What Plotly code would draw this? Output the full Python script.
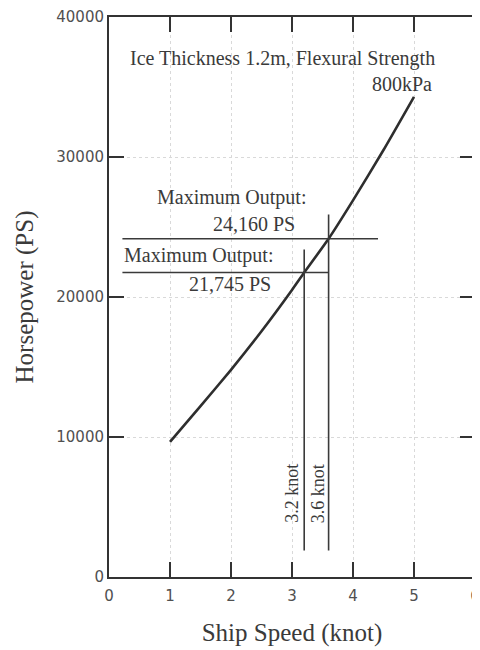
import plotly.graph_objects as go

# ship speed (knot) vs required horsepower (PS)
speed = [1, 1.5, 2, 2.5, 3, 3.2, 3.6, 4, 4.5, 5]
power = [9650, 12200, 14800, 17550, 20500, 21745, 24160, 26900, 30500, 34300]

# maximum output cases
max_output = [24160, 21745]
max_output_text = ["24,160 PS", "21,745 PS"]
max_speed = [3.6, 3.2]
max_speed_text = ["3.6 knot", "3.2 knot"]

y_ticks = [0, 10000, 20000, 30000, 40000]
x_ticks = [0, 1, 2, 3, 4, 5, 6]

serif = "Liberation Serif"
ink = "#3a3a3a"

fig = go.Figure()

fig.add_trace(go.Scatter(
    x=speed, y=power, mode="lines",
    line=dict(color="#2e2e2e", width=2.6, shape="spline", smoothing=0.5),
    showlegend=False, hoverinfo="skip",
))

# guide lines: horizontal at each output, vertical at each speed
h_ends = [4.41, 3.6]
v_tops = [25900, 23400]
for i in range(2):
    fig.add_shape(type="line", xref="x", yref="y",
                  x0=0.22, x1=h_ends[i], y0=max_output[i], y1=max_output[i],
                  line=dict(color=ink, width=1.6))
    fig.add_shape(type="line", xref="x", yref="y",
                  x0=max_speed[i], x1=max_speed[i], y0=1900, y1=v_tops[i],
                  line=dict(color=ink, width=1.6))

anno = [
    dict(x=2.85, y=37070, text="Ice Thickness 1.2m, Flexural Strength", xanchor="center"),
    dict(x=5.33, y=35200, text="800kPa", xanchor="right"),
    dict(x=2.01, y=27140, text="Maximum Output:", xanchor="center"),
    dict(x=2.38, y=25250, text=max_output_text[0], xanchor="center"),
    dict(x=1.46, y=23000, text="Maximum Output:", xanchor="center"),
    dict(x=1.99, y=20950, text=max_output_text[1], xanchor="center"),
]
for a in anno:
    fig.add_annotation(x=a["x"], y=a["y"], text=a["text"], xanchor=a["xanchor"],
                       yanchor="middle", showarrow=False,
                       font=dict(family=serif, size=20, color=ink))

for sx, label in zip([3.42, 3.0], max_speed_text):
    fig.add_annotation(x=sx, y=5950, text=label, textangle=-90, showarrow=False,
                       xanchor="center", yanchor="middle",
                       font=dict(family=serif, size=18, color=ink))

axis_common = dict(
    showline=True, linecolor="#333", linewidth=2, mirror="ticks",
    ticks="inside", ticklen=15, tickwidth=2, tickcolor="#333",
    showgrid=True, gridcolor="#d9d9d9", griddash="dot", gridwidth=1,
    zeroline=False, automargin=False,
    tickfont=dict(family="DejaVu Sans", size=15, color="#505050"),
)

fig.update_xaxes(range=[0, 6], tickvals=x_ticks, ticktext=[str(v) for v in x_ticks],
                 ticklabelstandoff=4,
                 title=dict(text="Ship Speed (knot)", font=dict(family=serif, size=25, color=ink),
                            standoff=19),
                 **axis_common)
fig.update_yaxes(range=[0, 40000], tickvals=y_ticks, ticktext=[str(v) for v in y_ticks],
                 title=dict(text="Horsepower (PS)", font=dict(family=serif, size=25, color=ink),
                            standoff=16),
                 **axis_common)

# the page adds an 8px body margin, so the margins are shifted to compensate
fig.update_layout(
    width=480, height=650,
    margin=dict(l=101, r=13, t=9, b=81),
    plot_bgcolor="white", paper_bgcolor="white",
)

fig.write_html("out.html")
